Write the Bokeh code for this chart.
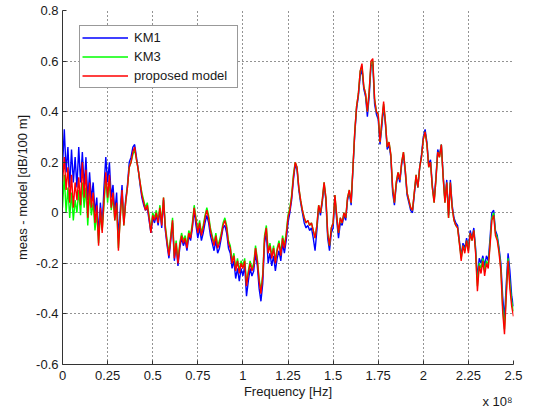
import numpy as np
from bokeh.plotting import figure
from bokeh.models import FixedTicker, Label, Title
from bokeh.embed import file_html
from bokeh.resources import INLINE

# Frequency grid in units of 1e8 Hz (0 .. 2.5, step 0.01)
freq = np.round(np.arange(251) * 0.01, 2)

x_ticks = [0, 0.25, 0.5, 0.75, 1.0, 1.25, 1.5, 1.75, 2.0, 2.25, 2.5]
x_tick_labels = ["0", "0.25", "0.5", "0.75", "1", "1.25", "1.5", "1.75", "2", "2.25", "2.5"]
y_ticks = [-0.6, -0.4, -0.2, 0.0, 0.2, 0.4, 0.6, 0.8]
y_tick_labels = ["-0.6", "-0.4", "-0.2", "0", "0.2", "0.4", "0.6", "0.8"]

series_names = ["KM1", "KM3", "proposed model"]

km1 = [
    0.18, 0.33, 0.16, 0.26, 0.10, 0.25, 0.12, 0.22, 0.10, 0.26,
    0.12, 0.24, 0.10, 0.22, 0.05, 0.16, 0.05, 0.12, 0.00, 0.06,
    -0.09, 0.04, -0.05, 0.10, 0.22, 0.12, 0.20, 0.06, 0.11, 0.00,
    0.08, -0.10, 0.01, 0.11, -0.04, 0.05, 0.11, 0.20, 0.22, 0.26,
    0.27, 0.22, 0.17, 0.11, 0.06, 0.03, 0.01, 0.02, -0.03, -0.08,
    -0.02, -0.04, -0.01, -0.05, 0.01, -0.06, 0.05, -0.07, -0.13, -0.18,
    -0.11, -0.04, -0.19, -0.13, -0.21, -0.14, -0.10, -0.13, -0.11, -0.15,
    -0.09, -0.11, -0.06, 0.01, -0.05, -0.10, -0.06, -0.11, -0.08, -0.04,
    -0.01, -0.04, -0.09, -0.12, -0.15, -0.11, -0.16, -0.14, -0.10, -0.06,
    -0.05, -0.08, -0.14, -0.16, -0.22, -0.19, -0.26, -0.22, -0.27, -0.22,
    -0.25, -0.21, -0.33, -0.27, -0.22, -0.25, -0.23, -0.16, -0.21, -0.30,
    -0.35, -0.28, -0.12, -0.08, -0.20, -0.16, -0.21, -0.17, -0.23, -0.18,
    -0.15, -0.19, -0.12, -0.16, -0.11, -0.04, 0.00, 0.05, 0.13, 0.19,
    0.17, 0.09, 0.04, 0.00, -0.04, -0.06, -0.05, -0.07, -0.06, -0.10,
    -0.15, -0.07, 0.02, -0.01, 0.04, 0.11, 0.05, -0.10, -0.15, -0.08,
    -0.06, 0.06, -0.03, -0.10, -0.04, -0.05, -0.01, -0.03, 0.05, 0.08,
    0.03, 0.17, 0.31, 0.41, 0.46, 0.54, 0.57, 0.49, 0.46, 0.38,
    0.46, 0.58, 0.59, 0.43, 0.39, 0.37, 0.27, 0.34, 0.42, 0.35,
    0.25, 0.27, 0.22, 0.08, 0.03, 0.11, 0.15, 0.12, 0.19, 0.23,
    0.16, 0.07, 0.04, 0.01, 0.00, 0.07, 0.14, 0.10, 0.18, 0.23,
    0.30, 0.33, 0.28, 0.19, 0.21, 0.11, 0.05, 0.14, 0.25, 0.23,
    0.27, 0.15, 0.05, 0.13, -0.01, 0.13, 0.03, -0.02, -0.04, -0.05,
    -0.11, -0.17, -0.12, -0.14, -0.10, -0.14, -0.07, -0.10, -0.06, -0.14,
    -0.26, -0.18, -0.20, -0.17, -0.21, -0.17, -0.19, -0.10, 0.00, 0.01,
    -0.07, -0.09, -0.14, -0.20, -0.33, -0.42, -0.28, -0.16, -0.23, -0.33,
    -0.37,
]

km3 = [
    0.02, 0.15, 0.00, 0.10, -0.02, 0.08, -0.03, 0.05, 0.00, 0.09,
    -0.01, 0.12, 0.02, 0.10, -0.05, 0.08, -0.01, 0.04, -0.07, 0.00,
    -0.12, 0.00, -0.07, 0.03, 0.14, 0.04, 0.13, 0.01, 0.06, -0.03,
    0.03, -0.14, -0.02, 0.08, -0.05, 0.04, 0.10, 0.18, 0.20, 0.23,
    0.25, 0.21, 0.17, 0.12, 0.08, 0.05, 0.02, 0.04, -0.01, -0.07,
    0.00, -0.02, 0.01, -0.03, 0.03, -0.04, 0.06, -0.05, -0.11, -0.16,
    -0.09, -0.02, -0.17, -0.11, -0.19, -0.12, -0.08, -0.11, -0.09, -0.13,
    -0.07, -0.09, -0.04, 0.03, -0.02, -0.07, -0.03, -0.08, -0.05, -0.01,
    0.02, -0.01, -0.06, -0.09, -0.12, -0.08, -0.13, -0.11, -0.08, -0.04,
    -0.02, -0.05, -0.11, -0.13, -0.19, -0.16, -0.22, -0.18, -0.23, -0.19,
    -0.21, -0.18, -0.28, -0.23, -0.19, -0.22, -0.20, -0.13, -0.18, -0.26,
    -0.31, -0.24, -0.09, -0.05, -0.15, -0.12, -0.17, -0.13, -0.19, -0.14,
    -0.11, -0.16, -0.09, -0.13, -0.08, -0.01, 0.02, 0.07, 0.15, 0.20,
    0.18, 0.10, 0.05, 0.01, -0.02, -0.04, -0.03, -0.05, -0.04, -0.07,
    -0.10, -0.05, 0.03, 0.00, 0.05, 0.12, 0.06, -0.08, -0.13, -0.06,
    -0.04, 0.07, -0.01, -0.08, -0.02, -0.04, 0.00, -0.02, 0.06, 0.09,
    0.04, 0.18, 0.32, 0.42, 0.47, 0.56, 0.58, 0.50, 0.47, 0.40,
    0.48, 0.59, 0.60, 0.45, 0.40, 0.39, 0.28, 0.36, 0.43, 0.36,
    0.26, 0.28, 0.23, 0.10, 0.04, 0.12, 0.16, 0.13, 0.20, 0.24,
    0.17, 0.08, 0.05, 0.02, 0.01, 0.08, 0.15, 0.10, 0.18, 0.22,
    0.29, 0.32, 0.27, 0.18, 0.20, 0.10, 0.04, 0.13, 0.24, 0.22,
    0.27, 0.14, 0.04, 0.12, -0.02, 0.12, 0.02, -0.03, -0.05, -0.06,
    -0.12, -0.18, -0.13, -0.15, -0.11, -0.15, -0.08, -0.11, -0.07, -0.15,
    -0.29, -0.20, -0.22, -0.18, -0.23, -0.19, -0.21, -0.12, -0.02, 0.00,
    -0.08, -0.10, -0.15, -0.22, -0.37, -0.46, -0.31, -0.18, -0.28, -0.35,
    -0.39,
]

proposed = [
    0.12, 0.22, 0.09, 0.18, 0.04, 0.15, 0.02, 0.12, 0.05, 0.14,
    0.03, 0.20, 0.06, 0.17, -0.02, 0.12, 0.02, 0.08, -0.04, 0.03,
    -0.13, 0.02, -0.08, 0.05, 0.16, 0.06, 0.15, 0.02, 0.08, -0.03,
    0.04, -0.15, -0.02, 0.09, -0.05, 0.04, 0.10, 0.18, 0.20, 0.24,
    0.26, 0.21, 0.17, 0.12, 0.07, 0.04, 0.01, 0.03, -0.02, -0.08,
    -0.01, -0.03, 0.00, -0.04, 0.02, -0.05, 0.06, -0.06, -0.12, -0.17,
    -0.10, -0.03, -0.18, -0.12, -0.20, -0.13, -0.09, -0.12, -0.10, -0.14,
    -0.08, -0.10, -0.05, 0.02, -0.03, -0.08, -0.04, -0.09, -0.06, -0.02,
    0.01, -0.02, -0.07, -0.10, -0.13, -0.09, -0.14, -0.12, -0.09, -0.05,
    -0.03, -0.06, -0.12, -0.14, -0.20, -0.17, -0.23, -0.19, -0.24, -0.20,
    -0.22, -0.19, -0.29, -0.24, -0.20, -0.23, -0.21, -0.14, -0.19, -0.27,
    -0.32, -0.25, -0.10, -0.06, -0.16, -0.13, -0.18, -0.14, -0.20, -0.15,
    -0.12, -0.17, -0.10, -0.14, -0.09, -0.02, 0.01, 0.06, 0.14, 0.20,
    0.18, 0.10, 0.05, 0.01, -0.02, -0.04, -0.03, -0.05, -0.04, -0.07,
    -0.10, -0.05, 0.03, 0.00, 0.05, 0.12, 0.06, -0.08, -0.13, -0.06,
    -0.04, 0.07, -0.01, -0.08, -0.02, -0.04, 0.00, -0.02, 0.06, 0.09,
    0.04, 0.18, 0.32, 0.42, 0.47, 0.56, 0.59, 0.50, 0.47, 0.40,
    0.48, 0.60, 0.61, 0.45, 0.40, 0.39, 0.28, 0.36, 0.44, 0.36,
    0.26, 0.28, 0.23, 0.10, 0.04, 0.12, 0.16, 0.13, 0.20, 0.24,
    0.17, 0.08, 0.05, 0.02, 0.01, 0.08, 0.15, 0.10, 0.18, 0.22,
    0.29, 0.32, 0.27, 0.18, 0.20, 0.10, 0.04, 0.13, 0.24, 0.22,
    0.27, 0.14, 0.04, 0.12, -0.02, 0.12, 0.02, -0.03, -0.05, -0.06,
    -0.12, -0.19, -0.13, -0.16, -0.11, -0.16, -0.08, -0.11, -0.07, -0.16,
    -0.31, -0.21, -0.24, -0.19, -0.25, -0.20, -0.22, -0.13, -0.03, -0.01,
    -0.09, -0.11, -0.16, -0.23, -0.39, -0.48, -0.33, -0.19, -0.30, -0.37,
    -0.41,
]

x_title = "Frequency [Hz]"
x_exponent = "x 10\u2078"
y_title = "meas - model [dB/100 m]"

FONT = "Liberation Sans"

p = figure(width=533, height=412, x_range=(0, 2.5), y_range=(-0.6, 0.8),
           output_backend="svg", toolbar_location=None,
           min_border_left=62, min_border_right=20, min_border_top=10, min_border_bottom=48)
p.outline_line_color = None
p.background_fill_color = "white"
p.border_fill_color = "white"

p.line(freq, km1, line_color="#0000ff", line_width=1.4, legend_label=series_names[0])
p.line(freq, km3, line_color="#00ff00", line_width=1.4, legend_label=series_names[1])
p.line(freq, proposed, line_color="#ff0000", line_width=1.4, legend_label=series_names[2])

p.xaxis.ticker = FixedTicker(ticks=x_ticks)
p.xaxis.major_label_overrides = {t: l for t, l in zip(x_ticks, x_tick_labels)}
p.yaxis.ticker = FixedTicker(ticks=y_ticks)
p.yaxis.major_label_overrides = {t: l for t, l in zip(y_ticks, y_tick_labels)}

for ax in (p.xaxis, p.yaxis):
    ax.axis_line_color = "#333333"
    ax.axis_line_width = 1
    ax.major_tick_in = 4
    ax.major_tick_out = 0
    ax.major_tick_line_color = "#333333"
    ax.minor_tick_line_color = None
    ax.major_label_text_font = FONT
    ax.major_label_text_font_size = "13px"
    ax.major_label_text_color = "#1a1a1a"
    ax.major_label_standoff = 4
    ax.axis_label_text_font = FONT
    ax.axis_label_text_font_size = "13px"
    ax.axis_label_text_font_style = "normal"
    ax.axis_label_text_color = "#1a1a1a"

p.xaxis.major_label_standoff = 6
p.yaxis.axis_label = y_title
p.yaxis.axis_label_standoff = 3

for g in (p.xgrid, p.ygrid):
    g.grid_line_color = "#000000"
    g.grid_line_alpha = 0.85
    g.grid_line_dash = "1 3"
    g.grid_line_width = 1

lg = p.legend[0]
lg.location = (17, 276)
lg.label_text_font = FONT
lg.label_text_font_size = "13px"
lg.label_text_color = "#1a1a1a"
lg.glyph_width = 46
lg.glyph_height = 19
lg.label_height = 19
lg.label_width = 101
lg.label_standoff = 6
lg.spacing = 0
lg.padding = 2
lg.margin = 0
lg.border_line_color = "#333333"
lg.border_line_width = 1
lg.background_fill_alpha = 1.0

# x-axis title and exponent note live in the bottom side panel
# (annotations placed in the centre are clipped to the frame)
p.add_layout(Label(x=225.5, y=6, x_units="screen", y_units="screen", text=x_title,
                   text_font=FONT, text_font_size="13px", text_color="#1a1a1a",
                   text_align="center", text_baseline="middle"), "below")
p.add_layout(Title(text=x_exponent, align="right", vertical_align="top", offset=1, standoff=-8,
                   text_font=FONT, text_font_size="13px", text_font_style="normal",
                   text_color="#1a1a1a"), "below")

open("out.html", "w").write(file_html(p, INLINE))
